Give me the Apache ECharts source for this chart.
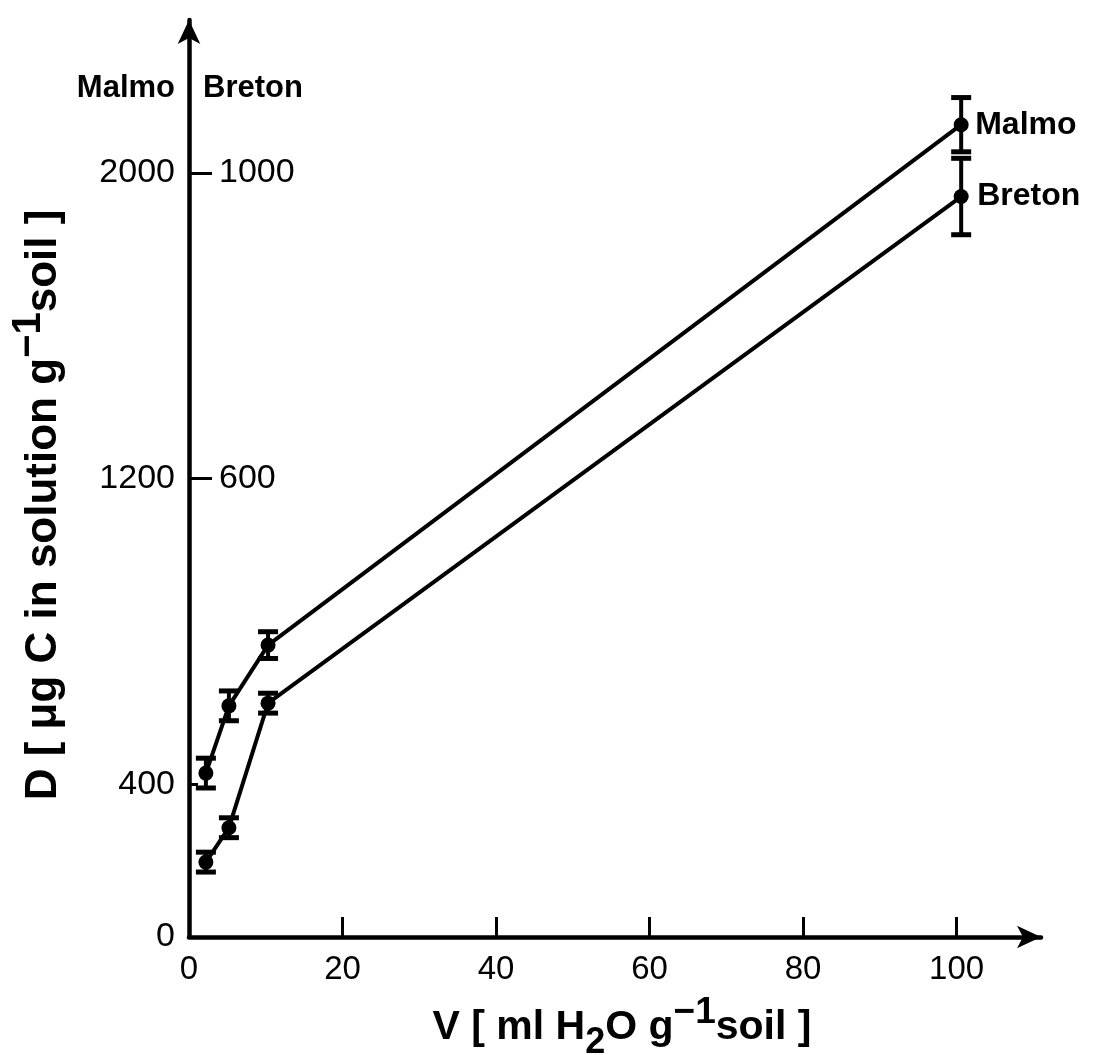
<!DOCTYPE html>
<html>
<head>
<meta charset="utf-8">
<script src="https://cdn.jsdelivr.net/npm/echarts@6/dist/echarts.min.js"></script>
<style>
html,body{margin:0;padding:0;background:#fff;}
#chart{width:1094px;height:1055px;}
</style>
</head>
<body>
<div id="chart"></div>
<script>
// ---- data ----
const volumes = [2.2, 5.2, 10.3, 100.6];          // V [ml H2O g-1 soil]
const malmoD = [429, 605, 764, 2126];              // Malmo, µg C g-1 soil (left scale)
const malmoErr = [39, 39, 35, 71];
const bretonD = [98, 143, 306, 969];               // Breton, µg C g-1 soil (right scale)
const bretonErr = [13, 13, 13, 50];
const xTickLabels = [0, 20, 40, 60, 80, 100];
const malmoTickLabels = [0, 400, 1200, 2000];
const bretonTickLabels = [600, 1000];
const seriesNames = ['Malmo', 'Breton'];

const FONT = '"Liberation Sans", Arial, Helvetica, sans-serif';

function pairs(xs, ys) { return xs.map((x, i) => [x, ys[i]]); }
function errRows(xs, ys, es) { return xs.map((x, i) => [x, ys[i] - es[i], ys[i] + es[i]]); }
const plain = v => String(v);

function errorBar(params, api) {
  const x = api.value(0);
  const lo = api.coord([x, api.value(1)]);
  const hi = api.coord([x, api.value(2)]);
  const hw = 10;
  const st = { stroke: '#000', lineWidth: 4 };
  return {
    type: 'group',
    children: [
      { type: 'line', shape: { x1: hi[0], y1: hi[1], x2: lo[0], y2: lo[1] }, style: st },
      { type: 'line', shape: { x1: hi[0] - hw, y1: hi[1], x2: hi[0] + hw, y2: hi[1] }, style: { stroke: '#000', lineWidth: 5 } },
      { type: 'line', shape: { x1: lo[0] - hw, y1: lo[1], x2: lo[0] + hw, y2: lo[1] }, style: { stroke: '#000', lineWidth: 5 } }
    ]
  };
}

const chart = echarts.init(document.getElementById('chart'), null, { renderer: 'canvas' });

const richTitle = (size, subSize, supSize) => ({
  n: { fontSize: size, fontWeight: 'bold', fontFamily: FONT, color: '#000' },
  sub: { fontSize: subSize, fontWeight: 'bold', fontFamily: FONT, color: '#000', padding: [30, 0, 0, 0] },
  sup: { fontSize: supSize, fontWeight: 'bold', fontFamily: FONT, color: '#000', padding: [0, 0, 30, 0] }
});

const option = {
  backgroundColor: '#fff',
  animation: false,
  grid: { left: 189, top: 20, right: 53, bottom: 118, outerBoundsMode: 'none', containLabel: false },
  xAxis: {
    type: 'value', min: 0, max: 111, interval: 20,
    axisLine: { show: true, symbol: ['none', 'arrow'], symbolSize: [17, 24], lineStyle: { color: '#000', width: 4.5 } },
    axisTick: { show: true, inside: true, length: 20, customValues: xTickLabels.slice(1), lineStyle: { color: '#000', width: 3 } },
    axisLabel: { show: true, margin: 16, customValues: xTickLabels, formatter: plain, color: '#000', fontSize: 33, fontFamily: FONT },
    splitLine: { show: false }
  },
  yAxis: [
    {
      type: 'value', min: 0, max: 2400, interval: 400, position: 'left',
      axisLine: { show: true, symbol: ['none', 'arrow'], symbolSize: [17, 24], lineStyle: { color: '#000', width: 4.5 } },
      axisTick: { show: true, inside: true, length: 9, customValues: [400], lineStyle: { color: '#000', width: 3 } },
      axisLabel: { show: true, margin: 14, customValues: malmoTickLabels, formatter: plain, color: '#000', fontSize: 34, fontFamily: FONT },
      splitLine: { show: false }
    },
    {
      type: 'value', min: 0, max: 1200, interval: 200, position: 'left', offset: 0,
      axisLine: { show: false },
      axisTick: { show: true, inside: true, length: 23, customValues: bretonTickLabels, lineStyle: { color: '#000', width: 3 } },
      axisLabel: { show: true, inside: true, margin: 30, customValues: bretonTickLabels, formatter: plain, color: '#000', fontSize: 34, fontFamily: FONT },
      splitLine: { show: false }
    }
  ],
  graphic: [
    { type: 'text', x: 175, y: 88, style: { text: seriesNames[0], align: 'right', verticalAlign: 'middle', fontSize: 31, fontWeight: 'bold', fontFamily: FONT, fill: '#000' } },
    { type: 'text', x: 203, y: 88, style: { text: seriesNames[1], align: 'left', verticalAlign: 'middle', fontSize: 31, fontWeight: 'bold', fontFamily: FONT, fill: '#000' } },
    { type: 'text', x: 622, y: 1028,
      style: { text: '{n|V [ ml H}{sub|2}{n|O g}{sup|\u22121}{n|soil ]}', align: 'center', verticalAlign: 'middle', rich: richTitle(41, 36, 37) } },
    { type: 'text', x: 44, y: 505, rotation: Math.PI / 2,
      style: { text: '{n|D [ \u03bcg C in solution g}{sup|\u22121}{n|soil ]}', align: 'center', verticalAlign: 'middle', rich: richTitle(44, 38, 40) } }
  ],
  series: [
    {
      name: seriesNames[0], type: 'line', xAxisIndex: 0, yAxisIndex: 0,
      data: pairs(volumes, malmoD),
      symbol: 'circle', symbolSize: 15, z: 3,
      itemStyle: { color: '#000' }, lineStyle: { color: '#000', width: 4 },
      endLabel: { show: true, formatter: '{a}', distance: 14, color: '#000', fontSize: 32, fontWeight: 'bold', fontFamily: FONT }
    },
    {
      name: seriesNames[1], type: 'line', xAxisIndex: 0, yAxisIndex: 1,
      data: pairs(volumes, bretonD),
      symbol: 'circle', symbolSize: 15, z: 3,
      itemStyle: { color: '#000' }, lineStyle: { color: '#000', width: 4 },
      endLabel: { show: true, formatter: '{a}', distance: 16, color: '#000', fontSize: 32, fontWeight: 'bold', fontFamily: FONT }
    },
    {
      type: 'custom', xAxisIndex: 0, yAxisIndex: 0, z: 4,
      data: errRows(volumes, malmoD, malmoErr),
      encode: { x: 0, y: [1, 2] }, renderItem: errorBar, silent: true
    },
    {
      type: 'custom', xAxisIndex: 0, yAxisIndex: 1, z: 4,
      data: errRows(volumes, bretonD, bretonErr),
      encode: { x: 0, y: [1, 2] }, renderItem: errorBar, silent: true
    }
  ]
};
chart.setOption(option);
</script>
</body>
</html>
